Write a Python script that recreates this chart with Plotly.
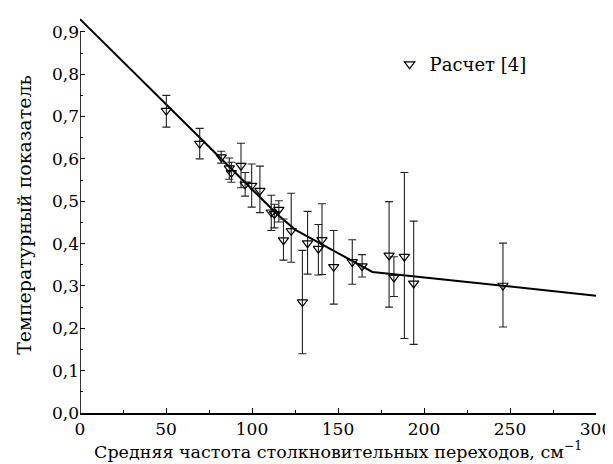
import plotly.graph_objects as go

# --- data ---
freq = [50.2, 69.6, 82.1, 86.8, 88.0, 93.6, 96.0, 99.8, 104.6, 111.2, 113.0, 115.6, 118.3,
        122.8, 129.3, 132.3, 138.6, 140.7, 147.5, 158.3, 164.0, 179.7, 182.5, 188.6, 194.0, 245.9]
temp_exp = [0.714, 0.636, 0.604, 0.578, 0.567, 0.584, 0.540, 0.537, 0.525, 0.474, 0.470, 0.480, 0.408,
            0.430, 0.262, 0.401, 0.388, 0.409, 0.345, 0.357, 0.347, 0.372, 0.320, 0.369, 0.306, 0.301]
upper = [0.750, 0.672, 0.618, 0.602, 0.592, 0.637, 0.568, 0.588, 0.583, 0.514, 0.493, 0.501, 0.458,
         0.519, 0.384, 0.476, 0.445, 0.494, 0.431, 0.409, 0.374, 0.499, 0.369, 0.568, 0.453, 0.401]
lower = [0.675, 0.600, 0.590, 0.552, 0.545, 0.532, 0.512, 0.486, 0.473, 0.431, 0.437, 0.451, 0.361,
         0.356, 0.140, 0.328, 0.326, 0.327, 0.257, 0.304, 0.321, 0.250, 0.275, 0.176, 0.162, 0.203]

fit_x = [0, 50, 100, 115, 125, 140, 155, 170, 300]
fit_y = [0.930, 0.730, 0.530, 0.468, 0.433, 0.400, 0.367, 0.333, 0.277]

x_ticks = [0, 50, 100, 150, 200, 250, 300]
y_ticks = [0.0, 0.1, 0.2, 0.3, 0.4, 0.5, 0.6, 0.7, 0.8, 0.9]

err_plus = [u - v for u, v in zip(upper, temp_exp)]
err_minus = [v - l for v, l in zip(temp_exp, lower)]

FONT = "DejaVu Serif, Liberation Serif, serif"

fig = go.Figure()
fig.add_trace(go.Scatter(
    x=fit_x, y=fit_y, mode="lines", line=dict(color="black", width=2),
    showlegend=False, hoverinfo="skip"))
fig.add_trace(go.Scatter(
    x=freq, y=temp_exp, mode="markers", name="Расчет [4]",
    marker=dict(symbol="triangle-down-open", size=9, color="black", line=dict(width=1.2, color="black")),
    error_y=dict(type="data", symmetric=False, array=err_plus, arrayminus=err_minus,
                 color="#222222", thickness=1.1, width=4),
))

fig.add_shape(type="line", xref="x", yref="y", x0=0, x1=0, y0=0, y1=0.9,
              line=dict(color="black", width=1.6))

fig.update_layout(
    width=613, height=464,
    margin=dict(l=72, r=19, t=9, b=59),
    paper_bgcolor="white", plot_bgcolor="white",
    separators=", ",
    font=dict(family=FONT, size=18, color="black"),
    showlegend=True,
    legend=dict(x=0.6, y=0.88, xanchor="left", yanchor="middle",
                bgcolor="rgba(0,0,0,0)", font=dict(size=18, family=FONT),
                itemwidth=30),
    xaxis=dict(
        range=[0, 300], tickvals=x_ticks, ticks="inside", ticklen=5, tickwidth=1.3,
        tickcolor="black", showline=True, linecolor="black", linewidth=1.6,
        showgrid=False, zeroline=False,
        minor=dict(dtick=25, ticks="inside", ticklen=3, tickwidth=1.2, tickcolor="black", showgrid=False),
        title=dict(text="Средняя частота столкновительных переходов, см<sup>−1</sup>",
                   font=dict(size=17.5, family=FONT), standoff=0),
        tickfont=dict(size=17, family=FONT),
    ),
    yaxis=dict(
        range=[0, 0.935], tickvals=y_ticks, tickformat=".1f", ticks="inside", ticklen=5,
        tickwidth=1.3, tickcolor="black", showline=False,
        showgrid=False, zeroline=False,
        minor=dict(dtick=0.05, ticks="inside", ticklen=3, tickwidth=1.2, tickcolor="black", showgrid=False),
        title=dict(text="Температурный показатель", font=dict(size=19, family=FONT), standoff=15),
        tickfont=dict(size=17, family=FONT),
    ),
)

fig.write_html("out.html")
